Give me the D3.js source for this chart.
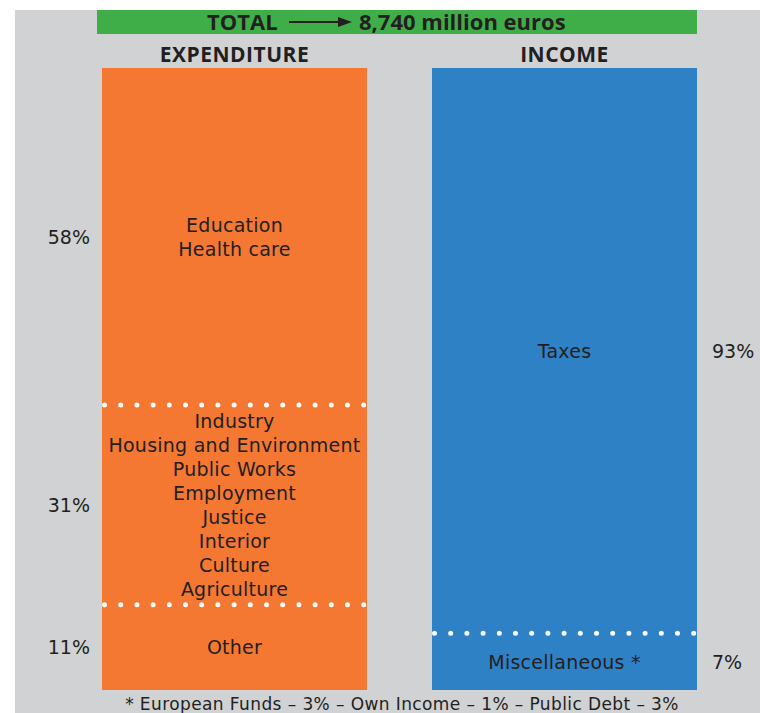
<!DOCTYPE html>
<html>
<head>
<meta charset="utf-8">
<script src="https://cdn.jsdelivr.net/npm/d3@7"></script>
<style>
  body { margin: 0; background: #fff; }
  text { font-family: "DejaVu Sans", Verdana, sans-serif; fill: #231f20; }
</style>
</head>
<body>
<svg id="chart"></svg>
<script>
const columns = ['EXPENDITURE', 'INCOME'];
const totalText = '8,740 million euros';

// listed from bottom to top
const expenditureValues = [11, 31, 58];
const expenditureLabels = [
  ['Other'],
  ['Industry', 'Housing and Environment', 'Public Works', 'Employment', 'Justice', 'Interior', 'Culture', 'Agriculture'],
  ['Education', 'Health care']
];
const incomeValues = [7, 93];
const incomeLabels = [['Miscellaneous *'], ['Taxes']];

const footnote = '* European Funds – 3% – Own Income – 1% – Public Debt – 3%';

const width = 760, height = 713;
const colors = { EXPENDITURE: '#f47832', INCOME: '#2f81c6' };

const svg = d3.select('#chart').attr('width', width).attr('height', height);

svg.append('rect')
  .attr('x', 15).attr('y', 10)
  .attr('width', width - 15).attr('height', height - 10)
  .attr('fill', '#d1d2d4');

const x = d3.scaleBand().domain(columns).range([102, 697]).paddingInner(65 / 330).paddingOuter(0);
// the original bars are not drawn strictly to scale; a slight power curve matches them
const y = d3.scalePow().exponent(0.9).domain([0, 100]).range([690, 68]);

// banner
const banner = svg.append('g');
banner.append('rect')
  .attr('x', 97).attr('y', 10)
  .attr('width', 600).attr('height', 24)
  .attr('fill', '#3fae49');
banner.append('text')
  .attr('x', 207).attr('y', 30)
  .attr('font-size', 22).attr('font-weight', 'bold')
  .style('font-family', '"Open Sans", sans-serif')
  .text('TOTAL');
banner.append('line')
  .attr('x1', 289).attr('x2', 340).attr('y1', 22).attr('y2', 22)
  .attr('stroke', '#231f20').attr('stroke-width', 2);
banner.append('path')
  .attr('d', 'M338,17 L352,22 L338,27 Z')
  .attr('fill', '#231f20');
banner.append('text')
  .attr('x', 359).attr('y', 30)
  .attr('font-size', 22).attr('font-weight', 'bold')
  .style('font-family', '"Open Sans", sans-serif')
  .text(totalText);

// column headings
svg.selectAll('.heading')
  .data(columns)
  .join('text')
  .attr('class', 'heading')
  .attr('x', d => x(d) + x.bandwidth() / 2)
  .attr('y', 62)
  .attr('text-anchor', 'middle')
  .attr('font-size', 21).attr('font-weight', 'bold')
  .attr('letter-spacing', 0.5)
  .style('font-family', '"Open Sans", sans-serif')
  .text(d => d);

function drawColumn(name, values, labels, side) {
  let acc = 0;
  const segs = values.map((v, i) => {
    const s = { value: v, lines: labels[i], y0: acc, y1: acc + v };
    acc += v;
    return s;
  });
  const g = svg.append('g');
  const x0 = x(name), bw = x.bandwidth();

  g.append('rect')
    .attr('x', x0).attr('y', y(acc))
    .attr('width', bw).attr('height', y(0) - y(acc))
    .attr('fill', colors[name]);

  // dotted dividers
  g.selectAll('.divider')
    .data(segs.slice(0, -1))
    .join('line')
    .attr('x1', x0 + 2.5).attr('x2', x0 + bw)
    .attr('y1', d => y(d.y1)).attr('y2', d => y(d.y1))
    .attr('stroke', '#fff').attr('stroke-width', 5)
    .attr('stroke-linecap', 'round')
    .attr('stroke-dasharray', '0 16.2');

  // labels inside
  const lh = 24;
  g.selectAll('.inner')
    .data(segs)
    .join('text')
    .attr('text-anchor', 'middle')
    .attr('font-size', 19)
    .attr('letter-spacing', 0.25)
    .each(function (d) {
      const cy = (y(d.y0) + y(d.y1)) / 2;
      const top = cy - (d.lines.length - 1) * lh / 2;
      d3.select(this).selectAll('tspan')
        .data(d.lines)
        .join('tspan')
        .attr('x', x0 + bw / 2)
        .attr('y', (l, i) => top + i * lh + 7)
        .text(l => l);
    });

  // percentages
  g.selectAll('.pct')
    .data(segs)
    .join('text')
    .attr('x', side === 'left' ? x0 - 12 : x0 + bw + 15)
    .attr('y', d => (y(d.y0) + y(d.y1)) / 2 + 7)
    .attr('text-anchor', side === 'left' ? 'end' : 'start')
    .attr('font-size', 19)
    .text(d => d.value + '%');
}

drawColumn('EXPENDITURE', expenditureValues, expenditureLabels, 'left');
drawColumn('INCOME', incomeValues, incomeLabels, 'right');

svg.append('text')
  .attr('x', 402).attr('y', 710)
  .attr('text-anchor', 'middle')
  .attr('font-size', 17)
  .attr('letter-spacing', 0.4)
  .text(footnote);
</script>
</body>
</html>
